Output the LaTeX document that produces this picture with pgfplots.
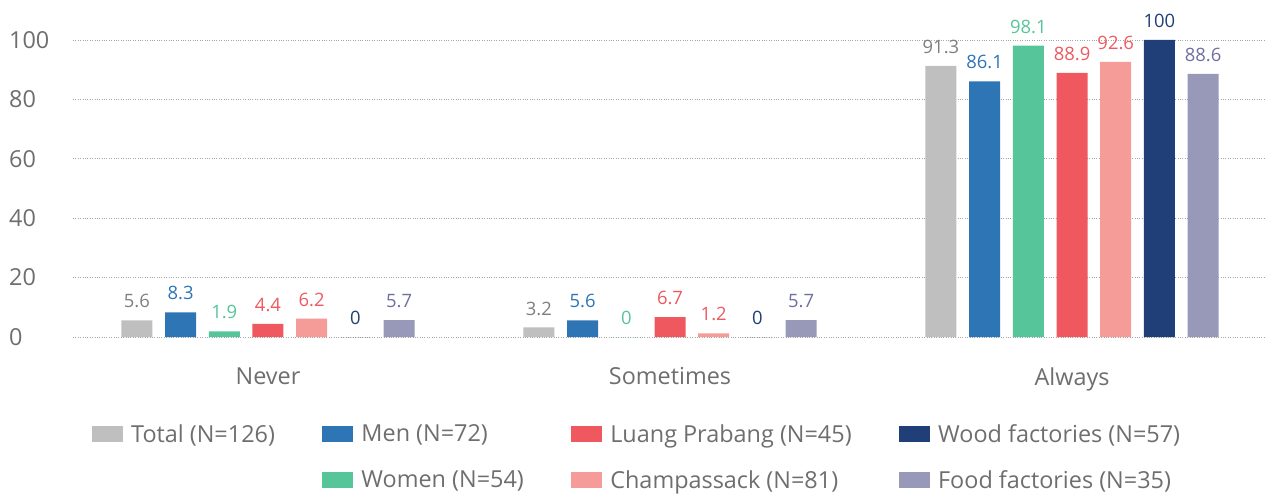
\documentclass[border=0pt]{standalone}
\usepackage{fontspec}
\setmainfont{Open Sans}
\usepackage{pgfplots}
\pgfplotsset{compat=1.18}

\definecolor{cTotal}{HTML}{BFBFBF}
\definecolor{cTotalL}{HTML}{7F7F7F}
\definecolor{cMen}{HTML}{2E75B6}
\definecolor{cWomen}{HTML}{57C59A}
\definecolor{cLP}{HTML}{EE585E}
\definecolor{cCh}{HTML}{F59C98}
\definecolor{cChL}{HTML}{EE5A60}
\definecolor{cWood}{HTML}{203E78}
\definecolor{cFood}{HTML}{9898B8}
\definecolor{cFoodL}{HTML}{6E6E9F}
\definecolor{txt}{HTML}{6E6E6E}

\pgfplotsset{
  ybar legend/.style={legend image code/.code={\fill[##1] (0bp,-8bp) rectangle (31bp,8bp);}},
  ser/.style n args={3}{fill=#1, draw=none, bar shift=#2,
    every node near coord/.append style={text=#3}},
}

\begin{document}
\begin{tikzpicture}
\begin{axis}[name=ax,
  scale only axis, width=1192bp, height=297bp,
  ybar, bar width=31bp,
  xmin=-0.485, xmax=2.48, ymin=0, ymax=100,
  axis line style={draw=none},
  major tick length=0pt,
  xtick={0,1,2}, xticklabels={Never,Sometimes,Always},
  ytick={0,20,...,100},
  ymajorgrids, major grid style={dotted, color=black!35, line width=0.7pt},
  /pgf/number format/assume math mode=true,
  tick label style={font=\fontsize{23.5}{27}\selectfont, text=txt},
  yticklabel style={anchor=west, inner sep=0pt, xshift=-64bp},
  xticklabel style={anchor=north, inner sep=0pt, yshift=-30.3bp},
  nodes near coords,
  every node near coord/.append style={font=\fontsize{18.5}{20}\selectfont, anchor=south, inner sep=0pt, yshift=12bp},
  clip=false,
  legend columns=4,
  legend cell align=left,
  legend style={at={(rel axis cs:0,0)}, anchor=north west, xshift=19bp, yshift=-85bp,
    draw=none, fill=none, inner sep=0pt, text=txt,
    font=\fontsize{23.5}{27}\selectfont, row sep=23bp,
    /tikz/every odd column/.append style={column sep=6bp},
    /tikz/every even column/.append style={column sep=45.5bp}},
]
\addplot[ser={cTotal}{-131.1bp}{cTotalL}] coordinates {(0,5.6) (1,3.2) (2,91.3)};
\addlegendentry{Total (N=126)}
\addplot[ser={cMen}{-87.4bp}{cMen}] coordinates {(0,8.3) (1,5.6) (2,86.1)};
\addlegendentry{Men (N=72)}
\addplot[ser={cLP}{0bp}{cLP}] coordinates {(0,4.4) (1,6.7) (2,88.9)};
\addlegendentry{Luang Prabang (N=45)}
\addplot[ser={cWood}{87.4bp}{cWood}] coordinates {(0,0) (1,0) (2,100)};
\addlegendentry{Wood factories (N=57)}
\addlegendimage{empty legend}
\addlegendentry{}
\addplot[ser={cWomen}{-43.7bp}{cWomen}] coordinates {(0,1.9) (1,0) (2,98.1)};
\addlegendentry{Women (N=54)}
\addplot[ser={cCh}{43.7bp}{cChL}] coordinates {(0,6.2) (1,1.2) (2,92.6)};
\addlegendentry{Champassack (N=81)}
\addplot[ser={cFood}{131.1bp}{cFoodL}] coordinates {(0,5.7) (1,5.7) (2,88.6)};
\addlegendentry{Food factories (N=35)}
\end{axis}
\pgfresetboundingbox
\path[use as bounding box] ([shift={(-73bp,-159bp)}]ax.south west) rectangle ([shift={(1196bp,337bp)}]ax.south west);
\end{tikzpicture}
\end{document}
